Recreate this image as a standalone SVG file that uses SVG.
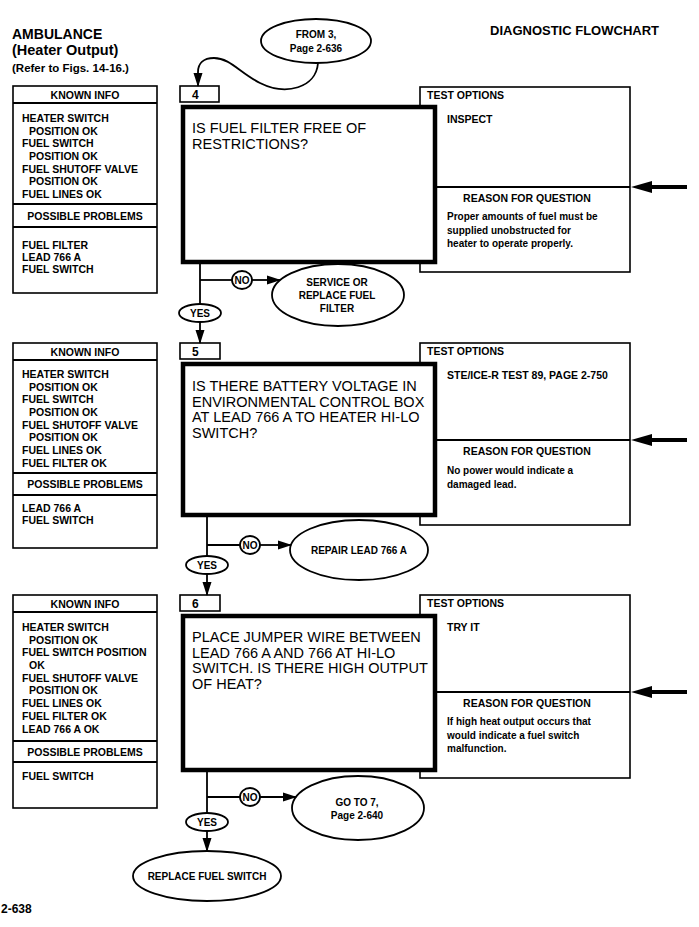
<svg xmlns="http://www.w3.org/2000/svg" width="699" height="927" viewBox="0 0 699 927">
<defs>
<style>
text{font-family:"Liberation Sans",Arial,Helvetica,sans-serif;fill:#000}
.b{font-weight:bold;font-size:10.5px}
.s{font-weight:bold;font-size:10px}
.c{text-anchor:middle}
.q{font-size:14.5px}
.n{font-weight:bold;font-size:12px}
.box{fill:#fff;stroke:#000;stroke-width:1.6}
.thick{fill:#fff;stroke:#000;stroke-width:4.5}
.ln{fill:none;stroke:#000;stroke-width:1.8}
.big{fill:none;stroke:#000;stroke-width:4}
</style>
<marker id="ah" markerUnits="userSpaceOnUse" markerWidth="14" markerHeight="10" refX="13" refY="5" orient="auto"><path d="M0,0.5 L14,5 L0,9.5 z" fill="#000"/></marker>
<marker id="bah" markerUnits="userSpaceOnUse" markerWidth="21" markerHeight="13" refX="4" refY="6.5" orient="auto"><path d="M0,0.5 L21,6.5 L0,12.5 z" fill="#000"/></marker>
</defs>
<rect width="699" height="927" fill="#fff"/>

<g id="header">
<text x="12" y="39" font-weight="bold" font-size="14">AMBULANCE</text>
<text x="12" y="55" font-weight="bold" font-size="14.5">(Heater Output)</text>
<text x="12" y="72" font-weight="bold" font-size="11.5">(Refer to Figs. 14-16.)</text>
<text x="490" y="35" font-weight="bold" font-size="13">DIAGNOSTIC FLOWCHART</text>
<text x="1" y="913" font-weight="bold" font-size="12">2-638</text>
</g>

<g id="from3">
<ellipse class="ln" cx="316" cy="41" rx="55" ry="22"/>
<text class="s c" x="316" y="38">FROM 3,</text>
<text class="s c" x="316" y="52">Page 2-636</text>
</g>

<!-- Section 4 -->
<g id="known4">
<rect class="box" x="13" y="86" width="144" height="207"/>
<line class="ln" x1="13" y1="103" x2="157" y2="103" stroke-width="1.6"/>
<line class="ln" x1="13" y1="204" x2="157" y2="204" stroke-width="1.6"/>
<line class="ln" x1="13" y1="227" x2="157" y2="227" stroke-width="1.6"/>
<text class="b c" x="85" y="98.5">KNOWN INFO</text>
<text class="b" x="22" y="122">HEATER SWITCH</text>
<text class="b" x="29" y="135">POSITION OK</text>
<text class="b" x="22" y="147">FUEL SWITCH</text>
<text class="b" x="29" y="160">POSITION OK</text>
<text class="b" x="22" y="173">FUEL SHUTOFF VALVE</text>
<text class="b" x="29" y="185">POSITION OK</text>
<text class="b" x="22" y="198">FUEL LINES OK</text>
<text class="b c" x="85" y="220">POSSIBLE PROBLEMS</text>
<text class="b" x="22" y="249">FUEL FILTER</text>
<text class="b" x="22" y="261">LEAD 766 A</text>
<text class="b" x="22" y="273">FUEL SWITCH</text>
</g>
<g id="test4">
<rect class="box" x="420" y="87" width="210" height="185"/>
<line class="ln" x1="420" y1="187" x2="630" y2="187" stroke-width="2"/>
<text class="b" x="427" y="99">TEST OPTIONS</text>
<text class="b" x="447" y="123">INSPECT</text>
<text class="b c" x="527" y="202">REASON FOR QUESTION</text>
<text class="s" x="447" y="220">Proper amounts of fuel must be</text>
<text class="s" x="447" y="233.5">supplied unobstructed for</text>
<text class="s" x="447" y="247">heater to operate properly.</text>
</g>
<g id="q4">
<rect class="thick" x="183" y="107" width="252" height="155"/>
<text class="q" x="192" y="133">IS FUEL FILTER FREE OF</text>
<text class="q" x="192" y="148.5">RESTRICTIONS?</text>
</g>
<g id="label4">
<rect class="box" x="180" y="86" width="39" height="16"/>
<text class="n" x="192" y="99">4</text>
</g>
<g id="no4"><ellipse class="ln" cx="242" cy="280" rx="10" ry="9"/><text class="s c" x="242" y="284">NO</text></g>
<g id="yes4"><ellipse class="ln" cx="200" cy="313" rx="21" ry="9"/><text class="s c" x="200" y="317">YES</text></g>
<g id="service">
<ellipse class="ln" cx="338" cy="295" rx="66" ry="31"/>
<text class="s c" x="337" y="286">SERVICE OR</text>
<text class="s c" x="337" y="299">REPLACE FUEL</text>
<text class="s c" x="337" y="312">FILTER</text>
</g>

<!-- Section 5 -->
<g id="known5">
<rect class="box" x="13" y="343" width="144" height="205"/>
<line class="ln" x1="13" y1="360" x2="157" y2="360" stroke-width="1.6"/>
<line class="ln" x1="13" y1="473" x2="157" y2="473" stroke-width="1.6"/>
<line class="ln" x1="13" y1="495" x2="157" y2="495" stroke-width="1.6"/>
<text class="b c" x="85" y="355.5">KNOWN INFO</text>
<text class="b" x="22" y="378">HEATER SWITCH</text>
<text class="b" x="29" y="391">POSITION OK</text>
<text class="b" x="22" y="403">FUEL SWITCH</text>
<text class="b" x="29" y="416">POSITION OK</text>
<text class="b" x="22" y="429">FUEL SHUTOFF VALVE</text>
<text class="b" x="29" y="441">POSITION OK</text>
<text class="b" x="22" y="454">FUEL LINES OK</text>
<text class="b" x="22" y="467">FUEL FILTER OK</text>
<text class="b c" x="85" y="488">POSSIBLE PROBLEMS</text>
<text class="b" x="22" y="512">LEAD 766 A</text>
<text class="b" x="22" y="524">FUEL SWITCH</text>
</g>
<g id="test5">
<rect class="box" x="420" y="343" width="210" height="182"/>
<line class="ln" x1="420" y1="440" x2="630" y2="440" stroke-width="2"/>
<text class="b" x="427" y="355">TEST OPTIONS</text>
<text class="b" x="447" y="379">STE/ICE-R TEST 89, PAGE 2-750</text>
<text class="b c" x="527" y="455">REASON FOR QUESTION</text>
<text class="s" x="447" y="474">No power would indicate a</text>
<text class="s" x="447" y="487.5">damaged lead.</text>
</g>
<g id="q5">
<rect class="thick" x="183" y="364" width="252" height="151"/>
<text class="q" x="192" y="391">IS THERE BATTERY VOLTAGE IN</text>
<text class="q" x="192" y="406.5">ENVIRONMENTAL CONTROL BOX</text>
<text class="q" x="192" y="422">AT LEAD 766 A TO HEATER HI-LO</text>
<text class="q" x="192" y="437.5">SWITCH?</text>
</g>
<g id="label5">
<rect class="box" x="180" y="343" width="40" height="16"/>
<text class="n" x="192" y="356">5</text>
</g>
<g id="no5"><ellipse class="ln" cx="250" cy="545" rx="10" ry="9"/><text class="s c" x="250" y="549">NO</text></g>
<g id="yes5"><ellipse class="ln" cx="207" cy="565" rx="21" ry="9"/><text class="s c" x="207" y="569">YES</text></g>
<g id="repair">
<ellipse class="ln" cx="359" cy="550" rx="69" ry="30"/>
<text class="s c" x="359" y="554">REPAIR LEAD 766 A</text>
</g>

<!-- Section 6 -->
<g id="known6">
<rect class="box" x="13" y="595" width="144" height="213"/>
<line class="ln" x1="13" y1="612" x2="157" y2="612" stroke-width="1.6"/>
<line class="ln" x1="13" y1="741" x2="157" y2="741" stroke-width="1.6"/>
<line class="ln" x1="13" y1="762" x2="157" y2="762" stroke-width="1.6"/>
<text class="b c" x="85" y="607.5">KNOWN INFO</text>
<text class="b" x="22" y="631">HEATER SWITCH</text>
<text class="b" x="29" y="644">POSITION OK</text>
<text class="b" x="22" y="656">FUEL SWITCH POSITION</text>
<text class="b" x="29" y="669">OK</text>
<text class="b" x="22" y="682">FUEL SHUTOFF VALVE</text>
<text class="b" x="29" y="694">POSITION OK</text>
<text class="b" x="22" y="707">FUEL LINES OK</text>
<text class="b" x="22" y="720">FUEL FILTER OK</text>
<text class="b" x="22" y="733">LEAD 766 A OK</text>
<text class="b c" x="85" y="756">POSSIBLE PROBLEMS</text>
<text class="b" x="22" y="780">FUEL SWITCH</text>
</g>
<g id="test6">
<rect class="box" x="420" y="595" width="210" height="183"/>
<line class="ln" x1="420" y1="692" x2="630" y2="692" stroke-width="2"/>
<text class="b" x="427" y="607">TEST OPTIONS</text>
<text class="b" x="447" y="631">TRY IT</text>
<text class="b c" x="527" y="707">REASON FOR QUESTION</text>
<text class="s" x="447" y="725">If high heat output occurs that</text>
<text class="s" x="447" y="738.5">would indicate a fuel switch</text>
<text class="s" x="447" y="752">malfunction.</text>
</g>
<g id="q6">
<rect class="thick" x="183" y="616" width="252" height="154"/>
<text class="q" x="192" y="642">PLACE JUMPER WIRE BETWEEN</text>
<text class="q" x="192" y="657.5">LEAD 766 A AND 766 AT HI-LO</text>
<text class="q" x="192" y="673">SWITCH. IS THERE HIGH OUTPUT</text>
<text class="q" x="192" y="688.5">OF HEAT?</text>
</g>
<g id="label6">
<rect class="box" x="180" y="595" width="40" height="16"/>
<text class="n" x="192" y="608">6</text>
</g>
<g id="no6"><ellipse class="ln" cx="250" cy="797" rx="10" ry="9"/><text class="s c" x="250" y="801">NO</text></g>
<g id="yes6"><ellipse class="ln" cx="207" cy="822" rx="21" ry="9"/><text class="s c" x="207" y="826">YES</text></g>
<g id="goto7">
<ellipse class="ln" cx="358" cy="808" rx="66" ry="32"/>
<text class="s c" x="357" y="806">GO TO 7,</text>
<text class="s c" x="357" y="819">Page 2-640</text>
</g>
<g id="replace">
<ellipse class="ln" cx="207" cy="876" rx="74" ry="25"/>
<text class="s c" x="207" y="880">REPLACE FUEL SWITCH</text>
</g>

<g id="connectors">
<path class="ln" d="M318 63 C316 88 286 96 260 83 C240 73 230 58 214 58 C203 58 198 64 198 72 L198 86" marker-end="url(#ah)"/>
<path class="ln" d="M200 264 L200 304"/>
<path class="ln" d="M200 280 L232 280"/>
<path class="ln" d="M252 280 L280 280" marker-end="url(#ah)"/>
<path class="ln" d="M200 322 L200 343" marker-end="url(#ah)"/>
<path class="ln" d="M207 517 L207 556"/>
<path class="ln" d="M207 545 L240 545"/>
<path class="ln" d="M260 545 L291 545" marker-end="url(#ah)"/>
<path class="ln" d="M207 574 L207 595" marker-end="url(#ah)"/>
<path class="ln" d="M207 772 L207 813"/>
<path class="ln" d="M207 797 L240 797"/>
<path class="ln" d="M260 797 L296 797" marker-end="url(#ah)"/>
<path class="ln" d="M207 831 L207 851" marker-end="url(#ah)"/>
<path class="big" d="M687 187 L648 187" marker-end="url(#bah)"/>
<path class="big" d="M687 440 L648 440" marker-end="url(#bah)"/>
<path class="big" d="M687 692 L648 692" marker-end="url(#bah)"/>
</g>
</svg>
